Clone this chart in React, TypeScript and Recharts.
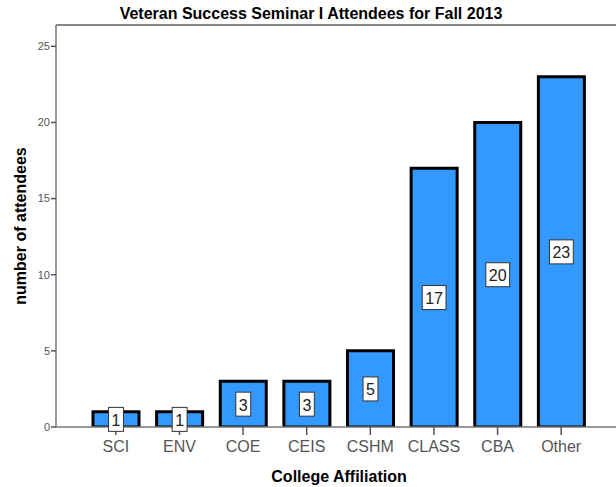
import React from 'react';
import { BarChart, Bar, XAxis, YAxis, LabelList, ReferenceLine, Customized } from 'recharts';

const categories = ['SCI', 'ENV', 'COE', 'CEIS', 'CSHM', 'CLASS', 'CBA', 'Other'];
const attendees = [1, 1, 3, 3, 5, 17, 20, 23];
const yTicks = [0, 5, 10, 15, 20, 25];

const data = categories.map((c, i) => ({ college: c, count: attendees[i] }));

const FONT = 'Arial, "Liberation Sans", sans-serif';

const ValueLabel = (props: any) => {
  const { x, y, width, height, value } = props;
  const fs = 16;
  const text = String(value);
  const tw = text.length * fs * 0.556;
  const bw = tw + 6;
  const bh = 24;
  const cx = x + width / 2;
  const cy = y + height / 2;
  return (
    <g>
      <rect x={cx - bw / 2} y={cy - bh / 2} width={bw} height={bh} fill="#ffffff" stroke="#333" strokeWidth={1} />
      <text x={cx} y={cy + 1} textAnchor="middle" dominantBaseline="central" fontSize={fs} fontFamily={FONT} fill="#222">
        {text}
      </text>
    </g>
  );
};

const Titles = () => (
  <g fontFamily={FONT} fontWeight="bold" fill="#000">
    <text x={311} y={19} textAnchor="middle" fontSize={16}>Veteran Success Seminar I Attendees for Fall 2013</text>
    <text x={339} y={482} textAnchor="middle" fontSize={16}>College Affiliation</text>
    <text x={20} y={226} textAnchor="middle" fontSize={16} transform="rotate(-90 20 226)" dominantBaseline="central">number of attendees</text>
  </g>
);

export default function App() {
  return (
    <div style={{ position: 'absolute', left: 0, top: 0, background: '#fff' }}>
      <BarChart
        width={616}
        height={487}
        data={data}
        margin={{ top: 25, right: 0, bottom: 0, left: 0 }}
        barSize={46}
      >
        <XAxis
          dataKey="college"
          height={60}
          padding={{ left: 28, right: 23 }}
          axisLine={{ stroke: '#777', strokeWidth: 1.5 }}
          tickLine={{ stroke: '#555', strokeWidth: 1.5 }}
          tickSize={8}
          tickMargin={6}
          tick={{ fontSize: 16, fill: '#555', fontFamily: FONT }}
          interval={0}
        />
        <YAxis
          width={56}
          domain={[0, 26.4]}
          ticks={yTicks}
          allowDataOverflow
          axisLine={{ stroke: '#777', strokeWidth: 1.5 }}
          tickLine={{ stroke: '#555', strokeWidth: 1.5 }}
          tickSize={5}
          tickMargin={1}
          tick={{ fontSize: 11, fill: '#555', fontFamily: FONT }}
        />
        <ReferenceLine y={26.4} stroke="#888" strokeWidth={2} ifOverflow="extendDomain" />
        <Bar dataKey="count" fill="#3399ff" stroke="#000" strokeWidth={3} isAnimationActive={false}>
          <LabelList dataKey="count" content={ValueLabel} />
        </Bar>
        <Customized component={Titles} />
      </BarChart>
    </div>
  );
}
